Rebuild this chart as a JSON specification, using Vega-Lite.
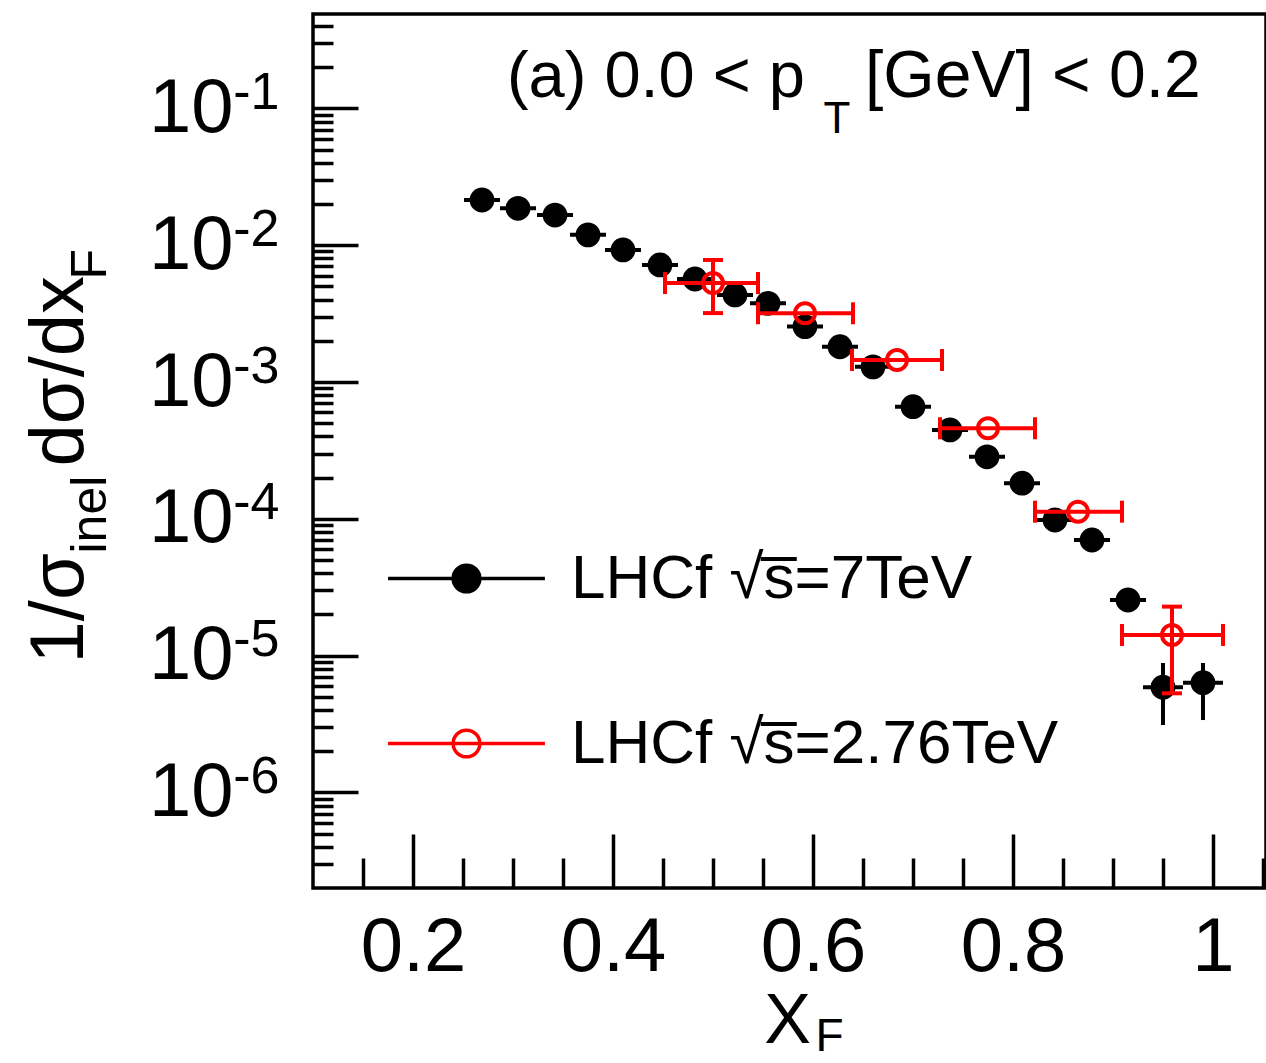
{
  "$schema": "https://vega.github.io/schema/vega-lite/v6.json",
  "width": 953,
  "height": 874,
  "autosize": "none",
  "padding": {"left": 313, "top": 14, "right": 0, "bottom": 175},
  "background": "white",
  "config": {
    "font": "Liberation Sans",
    "view": {"stroke": "black", "strokeWidth": 3.5},
    "axis": {"labelFont": "Liberation Sans", "titleFont": "Liberation Sans", "titleFontWeight": "normal", "labelColor": "black", "titleColor": "black", "grid": false, "domain": false, "tickColor": "black", "tickWidth": 3.5, "labelFlush": false, "labelOverlap": false},
    "legend": {"labelFont": "Liberation Sans"}
  },
  "datasets": {
    "black": [
      {"series": "LHCf √s\u0305=7TeV", "x": 0.269, "y": 0.0214, "xlo": 0.251, "xhi": 0.287},
      {"series": "LHCf √s\u0305=7TeV", "x": 0.305, "y": 0.0186, "xlo": 0.287, "xhi": 0.323},
      {"series": "LHCf √s\u0305=7TeV", "x": 0.342, "y": 0.0166, "xlo": 0.324, "xhi": 0.360},
      {"series": "LHCf √s\u0305=7TeV", "x": 0.375, "y": 0.0119, "xlo": 0.357, "xhi": 0.393},
      {"series": "LHCf √s\u0305=7TeV", "x": 0.410, "y": 0.00923, "xlo": 0.392, "xhi": 0.428},
      {"series": "LHCf √s\u0305=7TeV", "x": 0.447, "y": 0.00717, "xlo": 0.429, "xhi": 0.465},
      {"series": "LHCf √s\u0305=7TeV", "x": 0.482, "y": 0.00566, "xlo": 0.464, "xhi": 0.500},
      {"series": "LHCf √s\u0305=7TeV", "x": 0.522, "y": 0.00433, "xlo": 0.504, "xhi": 0.540},
      {"series": "LHCf √s\u0305=7TeV", "x": 0.555, "y": 0.00376, "xlo": 0.537, "xhi": 0.573},
      {"series": "LHCf √s\u0305=7TeV", "x": 0.592, "y": 0.00254, "xlo": 0.574, "xhi": 0.610},
      {"series": "LHCf √s\u0305=7TeV", "x": 0.627, "y": 0.00181, "xlo": 0.609, "xhi": 0.645},
      {"series": "LHCf √s\u0305=7TeV", "x": 0.660, "y": 0.00129, "xlo": 0.642, "xhi": 0.678},
      {"series": "LHCf √s\u0305=7TeV", "x": 0.700, "y": 0.00066, "xlo": 0.682, "xhi": 0.718},
      {"series": "LHCf √s\u0305=7TeV", "x": 0.737, "y": 0.000446, "xlo": 0.719, "xhi": 0.755},
      {"series": "LHCf √s\u0305=7TeV", "x": 0.774, "y": 0.000284, "xlo": 0.756, "xhi": 0.792},
      {"series": "LHCf √s\u0305=7TeV", "x": 0.809, "y": 0.000182, "xlo": 0.791, "xhi": 0.827},
      {"series": "LHCf √s\u0305=7TeV", "x": 0.842, "y": 0.000098, "xlo": 0.824, "xhi": 0.860},
      {"series": "LHCf √s\u0305=7TeV", "x": 0.879, "y": 0.00007, "xlo": 0.861, "xhi": 0.897},
      {"series": "LHCf √s\u0305=7TeV", "x": 0.915, "y": 0.0000255, "xlo": 0.897, "xhi": 0.933},
      {"series": "LHCf √s\u0305=7TeV", "x": 0.950, "y": 0.00000587, "xlo": 0.930, "xhi": 0.970, "ylo": 0.00000311, "yhi": 0.00000883},
      {"series": "LHCf √s\u0305=7TeV", "x": 0.990, "y": 0.00000634, "xlo": 0.970, "xhi": 1.010, "ylo": 0.00000338, "yhi": 0.00000883}
    ],
    "red": [
      {"series": "LHCf √s\u0305=2.76TeV", "x": 0.500, "y": 0.00529, "xlo": 0.452, "xhi": 0.545, "ylo": 0.00319, "yhi": 0.0078},
      {"series": "LHCf √s\u0305=2.76TeV", "x": 0.592, "y": 0.00318, "xlo": 0.545, "xhi": 0.640},
      {"series": "LHCf √s\u0305=2.76TeV", "x": 0.684, "y": 0.001449, "xlo": 0.639, "xhi": 0.729},
      {"series": "LHCf √s\u0305=2.76TeV", "x": 0.775, "y": 0.000459, "xlo": 0.727, "xhi": 0.822},
      {"series": "LHCf √s\u0305=2.76TeV", "x": 0.865, "y": 0.0001127, "xlo": 0.822, "xhi": 0.909},
      {"series": "LHCf √s\u0305=2.76TeV", "x": 0.959, "y": 0.00001415, "xlo": 0.909, "xhi": 1.010, "ylo": 0.0000053, "yhi": 0.0000228}
    ],
    "note": [{"label": "annotation"}]
  },
  "resolve": {"axis": {"x": "independent", "y": "independent"}},
  "layer": [
    {
      "data": {"name": "black"},
      "mark": {"type": "rule", "color": "black", "strokeWidth": 4},
      "encoding": {
        "x": {"field": "xlo", "type": "quantitative", "scale": {"type": "linear", "domain": [0.1, 1.053], "zero": false, "nice": false},
              "axis": {"orient": "bottom", "values": [0.2, 0.4, 0.6, 0.8, 1.0], "labels": false, "ticks": true, "tickSize": 54, "offset": -54, "title": null}},
        "x2": {"field": "xhi"},
        "y": {"field": "y", "type": "quantitative", "scale": {"type": "log", "domain": [2e-7, 0.49], "nice": false},
              "axis": {"orient": "left", "values": [1e-6, 1e-5, 1e-4, 1e-3, 1e-2, 0.1], "labels": false, "ticks": true, "tickSize": 45, "offset": -45, "title": null}}
      }
    },
    {
      "data": {"name": "black"},
      "transform": [{"filter": "isValid(datum.ylo)"}],
      "mark": {"type": "rule", "color": "black", "strokeWidth": 4},
      "encoding": {
        "x": {"field": "x", "type": "quantitative", "scale": {"type": "linear", "domain": [0.1, 1.053], "zero": false, "nice": false},
              "axis": {"orient": "bottom", "values": [0.15, 0.25, 0.3, 0.35, 0.45, 0.5, 0.55, 0.65, 0.7, 0.75, 0.85, 0.9, 0.95, 1.05], "labels": false, "ticks": true, "tickSize": 30, "offset": -30, "title": null}},
        "y": {"field": "ylo", "type": "quantitative", "scale": {"type": "log", "domain": [2e-7, 0.49], "nice": false},
              "axis": {"orient": "left", "values": [3e-7, 4e-7, 5e-7, 6e-7, 7e-7, 8e-7, 9e-7, 2e-6, 3e-6, 4e-6, 5e-6, 6e-6, 7e-6, 8e-6, 9e-6, 2e-5, 3e-5, 4e-5, 5e-5, 6e-5, 7e-5, 8e-5, 9e-5, 2e-4, 3e-4, 4e-4, 5e-4, 6e-4, 7e-4, 8e-4, 9e-4, 2e-3, 3e-3, 4e-3, 5e-3, 6e-3, 7e-3, 8e-3, 9e-3, 0.02, 0.03, 0.04, 0.05, 0.06, 0.07, 0.08, 0.09, 0.2, 0.3, 0.4], "labels": false, "ticks": true, "tickSize": 20, "offset": -20, "title": null}},
        "y2": {"field": "yhi"}
      }
    },
    {
      "data": {"name": "black"},
      "mark": {"type": "point", "shape": "circle", "size": 520, "strokeWidth": 2, "opacity": 1},
      "encoding": {
        "x": {"field": "x", "type": "quantitative", "scale": {"type": "linear", "domain": [0.1, 1.053], "zero": false, "nice": false},
              "axis": {"orient": "bottom", "values": [0.2, 0.4, 0.6, 0.8, 1.0], "format": "~g", "ticks": false, "labelFontSize": 76, "labelPadding": 82, "labelBaseline": "alphabetic",
                       "title": "X", "titleFontSize": 70, "titleX": 474, "titleY": 154, "titleAlign": "center", "titleBaseline": "alphabetic", "titleAngle": 0}},
        "y": {"field": "y", "type": "quantitative", "scale": {"type": "log", "domain": [2e-7, 0.49], "nice": false},
              "axis": {"orient": "left", "values": [1e-6, 1e-5, 1e-4, 1e-3, 1e-2, 0.1], "labelExpr": "'10'", "ticks": false, "labelFontSize": 76, "labelPadding": 80, "labelAlign": "right", "labelBaseline": "middle", "labelDy": 10,
                       "title": "1/σ", "titleFontSize": 76, "titleAngle": -90, "titleX": -231, "titleY": 649, "titleAlign": "left", "titleBaseline": "alphabetic"}},
        "stroke": {"field": "series", "type": "nominal",
                   "scale": {"domain": ["LHCf √s\u0305=7TeV", "LHCf √s\u0305=2.76TeV"], "range": ["black", "red"]},
                   "legend": {"title": null, "orient": "none", "legendX": 73, "legendY": 484, "padding": 0, "symbolType": "M-1,0H1M0.17,0A0.17,0.17,0,1,1,-0.17,0A0.17,0.17,0,1,1,0.17,0Z", "symbolSize": 24600, "symbolStrokeWidth": 3.5, "labelFontSize": 62, "labelColor": "black", "labelOffset": 24, "rowPadding": 53, "labelLimit": 0}},
        "fill": {"field": "series", "type": "nominal",
                 "scale": {"domain": ["LHCf √s\u0305=7TeV", "LHCf √s\u0305=2.76TeV"], "range": ["black", "transparent"]},
                 "legend": {"title": null, "orient": "none", "legendX": 73, "legendY": 484, "padding": 0, "symbolType": "M-1,0H1M0.17,0A0.17,0.17,0,1,1,-0.17,0A0.17,0.17,0,1,1,0.17,0Z", "symbolSize": 24600, "symbolStrokeWidth": 3.5, "labelFontSize": 62, "labelColor": "black", "labelOffset": 24, "rowPadding": 53, "labelLimit": 0}}
      }
    },
    {
      "data": {"name": "red"},
      "mark": {"type": "rule", "color": "red", "strokeWidth": 4},
      "encoding": {
        "x": {"field": "xlo", "type": "quantitative", "scale": {"type": "linear", "domain": [0.1, 1.053], "zero": false, "nice": false},
              "axis": {"orient": "bottom", "labels": false, "ticks": false, "title": "F", "titleFontSize": 46, "titleX": 502, "titleY": 162, "titleAlign": "left", "titleBaseline": "alphabetic", "titleAngle": 0}},
        "x2": {"field": "xhi"},
        "y": {"field": "y", "type": "quantitative", "scale": {"type": "log", "domain": [2e-7, 0.49], "nice": false},
              "axis": {"orient": "left", "values": [1e-6, 1e-5, 1e-4, 1e-3, 1e-2, 0.1], "labelExpr": "'-' + round(-log(datum.value) / LN10)", "ticks": false, "labelFontSize": 52, "labelPadding": 34, "labelAlign": "right", "labelBaseline": "alphabetic", "labelDy": 0,
                       "title": "inel", "titleFontSize": 50, "titleAngle": -90, "titleX": -208, "titleY": 539, "titleAlign": "left", "titleBaseline": "alphabetic"}}
      }
    },
    {
      "data": {"name": "red"},
      "mark": {"type": "tick", "color": "red", "orient": "vertical", "size": 22, "thickness": 4, "opacity": 1},
      "encoding": {
        "x": {"field": "xlo", "type": "quantitative", "scale": {"type": "linear", "domain": [0.1, 1.053], "zero": false, "nice": false}, "axis": null},
        "y": {"field": "y", "type": "quantitative", "scale": {"type": "log", "domain": [2e-7, 0.49], "nice": false},
              "axis": {"orient": "left", "labels": false, "ticks": false, "title": "dσ/dx", "titleFontSize": 76, "titleAngle": -90, "titleX": -231, "titleY": 452, "titleAlign": "left", "titleBaseline": "alphabetic"}}
      }
    },
    {
      "data": {"name": "red"},
      "mark": {"type": "tick", "color": "red", "orient": "vertical", "size": 22, "thickness": 4, "opacity": 1},
      "encoding": {
        "x": {"field": "xhi", "type": "quantitative", "scale": {"type": "linear", "domain": [0.1, 1.053], "zero": false, "nice": false}, "axis": null},
        "y": {"field": "y", "type": "quantitative", "scale": {"type": "log", "domain": [2e-7, 0.49], "nice": false},
              "axis": {"orient": "left", "labels": false, "ticks": false, "title": "F", "titleFontSize": 50, "titleAngle": -90, "titleX": -208, "titleY": 265, "titleAlign": "left", "titleBaseline": "alphabetic"}}
      }
    },
    {
      "data": {"name": "red"},
      "transform": [{"filter": "isValid(datum.ylo)"}],
      "mark": {"type": "rule", "color": "red", "strokeWidth": 4},
      "encoding": {
        "x": {"field": "x", "type": "quantitative", "scale": {"type": "linear", "domain": [0.1, 1.053], "zero": false, "nice": false}, "axis": null},
        "y": {"field": "ylo", "type": "quantitative", "scale": {"type": "log", "domain": [2e-7, 0.49], "nice": false}, "axis": null},
        "y2": {"field": "yhi"}
      }
    },
    {
      "data": {"name": "red"},
      "transform": [{"filter": "isValid(datum.ylo)"}],
      "mark": {"type": "tick", "color": "red", "orient": "horizontal", "size": 20, "thickness": 4, "opacity": 1},
      "encoding": {
        "x": {"field": "x", "type": "quantitative", "scale": {"type": "linear", "domain": [0.1, 1.053], "zero": false, "nice": false}, "axis": null},
        "y": {"field": "ylo", "type": "quantitative", "scale": {"type": "log", "domain": [2e-7, 0.49], "nice": false}, "axis": null}
      }
    },
    {
      "data": {"name": "red"},
      "transform": [{"filter": "isValid(datum.yhi)"}],
      "mark": {"type": "tick", "color": "red", "orient": "horizontal", "size": 20, "thickness": 4, "opacity": 1},
      "encoding": {
        "x": {"field": "x", "type": "quantitative", "scale": {"type": "linear", "domain": [0.1, 1.053], "zero": false, "nice": false}, "axis": null},
        "y": {"field": "yhi", "type": "quantitative", "scale": {"type": "log", "domain": [2e-7, 0.49], "nice": false}, "axis": null}
      }
    },
    {
      "data": {"name": "red"},
      "mark": {"type": "point", "shape": "circle", "size": 400, "strokeWidth": 4, "opacity": 1},
      "encoding": {
        "x": {"field": "x", "type": "quantitative", "scale": {"type": "linear", "domain": [0.1, 1.053], "zero": false, "nice": false}, "axis": null},
        "y": {"field": "y", "type": "quantitative", "scale": {"type": "log", "domain": [2e-7, 0.49], "nice": false}, "axis": null},
        "stroke": {"field": "series", "type": "nominal"},
        "fill": {"field": "series", "type": "nominal"}
      }
    },
    {
      "data": {"name": "note"},
      "mark": {"type": "text", "text": "(a) 0.0 < p", "align": "right", "baseline": "alphabetic", "fontSize": 65, "font": "Liberation Sans", "color": "black"},
      "encoding": {
        "x": {"datum": 0.592, "type": "quantitative", "scale": {"type": "linear", "domain": [0.1, 1.053], "zero": false, "nice": false}, "axis": null},
        "y": {"datum": 0.1212, "type": "quantitative", "scale": {"type": "log", "domain": [2e-7, 0.49], "nice": false}, "axis": null}
      }
    },
    {
      "data": {"name": "note"},
      "mark": {"type": "text", "text": "T", "align": "center", "baseline": "alphabetic", "fontSize": 44, "font": "Liberation Sans", "color": "black"},
      "encoding": {
        "x": {"datum": 0.624, "type": "quantitative", "scale": {"type": "linear", "domain": [0.1, 1.053], "zero": false, "nice": false}, "axis": null},
        "y": {"datum": 0.066, "type": "quantitative", "scale": {"type": "log", "domain": [2e-7, 0.49], "nice": false}, "axis": null}
      }
    },
    {
      "data": {"name": "note"},
      "mark": {"type": "text", "text": "[GeV] < 0.2", "align": "left", "baseline": "alphabetic", "fontSize": 66, "font": "Liberation Sans", "color": "black"},
      "encoding": {
        "x": {"datum": 0.652, "type": "quantitative", "scale": {"type": "linear", "domain": [0.1, 1.053], "zero": false, "nice": false}, "axis": null},
        "y": {"datum": 0.1212, "type": "quantitative", "scale": {"type": "log", "domain": [2e-7, 0.49], "nice": false}, "axis": null}
      }
    }
  ]
}
